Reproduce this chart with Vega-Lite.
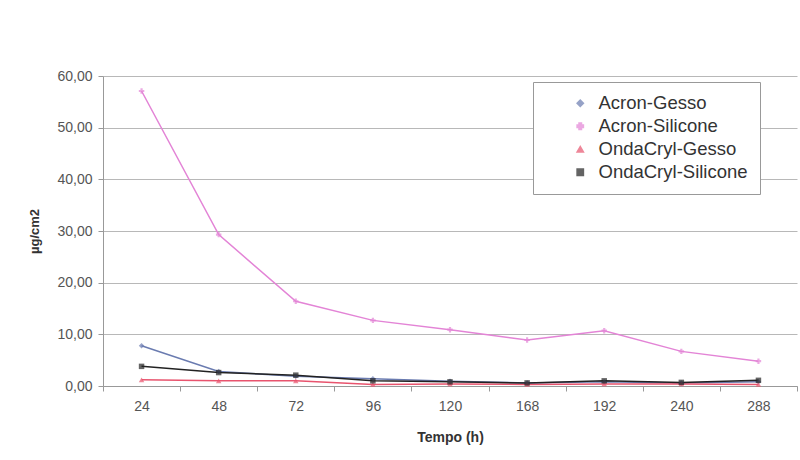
{
  "$schema": "https://vega.github.io/schema/vega-lite/v6.json",
  "autosize": {"type": "none"},
  "width": 694,
  "height": 310,
  "padding": {"left": 103, "top": 76, "right": 3, "bottom": 74},
  "background": "#ffffff",
  "config": {
    "font": "Liberation Sans",
    "view": {"stroke": null},
    "axis": {"labelFont": "Liberation Sans", "titleFont": "Liberation Sans"}
  },
  "data": {
    "values": [
      {"t": "24", "s": "Acron-Gesso", "v": 7.8},
      {"t": "48", "s": "Acron-Gesso", "v": 2.8},
      {"t": "72", "s": "Acron-Gesso", "v": 1.9},
      {"t": "96", "s": "Acron-Gesso", "v": 1.4},
      {"t": "120", "s": "Acron-Gesso", "v": 0.9},
      {"t": "168", "s": "Acron-Gesso", "v": 0.6},
      {"t": "192", "s": "Acron-Gesso", "v": 0.8},
      {"t": "240", "s": "Acron-Gesso", "v": 0.6},
      {"t": "288", "s": "Acron-Gesso", "v": 0.8},
      {"t": "24", "s": "Acron-Silicone", "v": 57.1},
      {"t": "48", "s": "Acron-Silicone", "v": 29.3},
      {"t": "72", "s": "Acron-Silicone", "v": 16.4},
      {"t": "96", "s": "Acron-Silicone", "v": 12.7},
      {"t": "120", "s": "Acron-Silicone", "v": 10.9},
      {"t": "168", "s": "Acron-Silicone", "v": 8.9},
      {"t": "192", "s": "Acron-Silicone", "v": 10.7},
      {"t": "240", "s": "Acron-Silicone", "v": 6.7},
      {"t": "288", "s": "Acron-Silicone", "v": 4.8},
      {"t": "24", "s": "OndaCryl-Gesso", "v": 1.2},
      {"t": "48", "s": "OndaCryl-Gesso", "v": 1.0},
      {"t": "72", "s": "OndaCryl-Gesso", "v": 1.0},
      {"t": "96", "s": "OndaCryl-Gesso", "v": 0.3},
      {"t": "120", "s": "OndaCryl-Gesso", "v": 0.4},
      {"t": "168", "s": "OndaCryl-Gesso", "v": 0.3},
      {"t": "192", "s": "OndaCryl-Gesso", "v": 0.4},
      {"t": "240", "s": "OndaCryl-Gesso", "v": 0.4},
      {"t": "288", "s": "OndaCryl-Gesso", "v": 0.3},
      {"t": "24", "s": "OndaCryl-Silicone", "v": 3.8},
      {"t": "48", "s": "OndaCryl-Silicone", "v": 2.6},
      {"t": "72", "s": "OndaCryl-Silicone", "v": 2.1},
      {"t": "96", "s": "OndaCryl-Silicone", "v": 1.0},
      {"t": "120", "s": "OndaCryl-Silicone", "v": 0.8},
      {"t": "168", "s": "OndaCryl-Silicone", "v": 0.6},
      {"t": "192", "s": "OndaCryl-Silicone", "v": 1.0},
      {"t": "240", "s": "OndaCryl-Silicone", "v": 0.7},
      {"t": "288", "s": "OndaCryl-Silicone", "v": 1.1}
    ]
  },
  "encoding": {
    "x": {
      "field": "t", "type": "ordinal", "sort": null,
      "scale": {"type": "band", "paddingInner": 0, "paddingOuter": 0},
      "axis": {
        "title": "Tempo (h)", "titleFontSize": 14, "titleFontWeight": "bold", "titleColor": "#333333",
        "titlePadding": 17,
        "labelAngle": 0, "labelFontSize": 14, "labelColor": "#555555", "labelPadding": 8,
        "tickBand": "extent",
        "tickColor": "#999999", "tickSize": 5, "domainColor": "#999999", "grid": false
      }
    },
    "y": {
      "field": "v", "type": "quantitative",
      "scale": {"domain": [0, 60], "nice": false},
      "axis": {
        "title": "µg/cm2", "titleFontSize": 13, "titleFontWeight": "bold", "titleColor": "#333333",
        "titlePadding": 15,
        "values": [0, 10, 20, 30, 40, 50, 60],
        "labelExpr": "replace(format(datum.value, '.2f'), '.', ',')",
        "labelFontSize": 14, "labelColor": "#555555", "labelPadding": 6,
        "tickColor": "#999999", "tickSize": 5, "domainColor": "#999999",
        "grid": true, "gridColor": "#b8b8b8", "gridWidth": 1
      }
    },
    "color": {
      "field": "s", "type": "nominal",
      "scale": {
        "domain": ["Acron-Gesso", "Acron-Silicone", "OndaCryl-Gesso", "OndaCryl-Silicone"],
        "range": ["#6a7bb0", "#e384d6", "#e8546e", "#222222"]
      },
      "legend": {
        "title": null, "orient": "none", "legendX": 430, "legendY": 6,
        "strokeColor": "#999999", "fillColor": "#ffffff",
        "padding": 12, "labelFontSize": 18.5, "labelColor": "#333333",
        "rowPadding": 4, "symbolSize": 40, "labelLimit": 300,
        "symbolOffset": 26, "labelOffset": 9
      }
    }
  },
  "layer": [
    {"mark": {"type": "line", "strokeWidth": 1.5}},
    {
      "mark": {"type": "point", "filled": true, "size": 30},
      "encoding": {
        "shape": {
          "field": "s", "type": "nominal",
          "scale": {
            "domain": ["Acron-Gesso", "Acron-Silicone", "OndaCryl-Gesso", "OndaCryl-Silicone"],
            "range": ["diamond", "cross", "triangle-up", "square"]
          },
          "legend": {
            "title": null, "orient": "none", "legendX": 430, "legendY": 6,
            "strokeColor": "#999999", "fillColor": "#ffffff",
            "padding": 12, "labelFontSize": 18.5, "labelColor": "#333333",
            "rowPadding": 4, "symbolSize": 40, "labelLimit": 300,
            "symbolOffset": 26, "labelOffset": 9
          }
        }
      }
    }
  ]
}
